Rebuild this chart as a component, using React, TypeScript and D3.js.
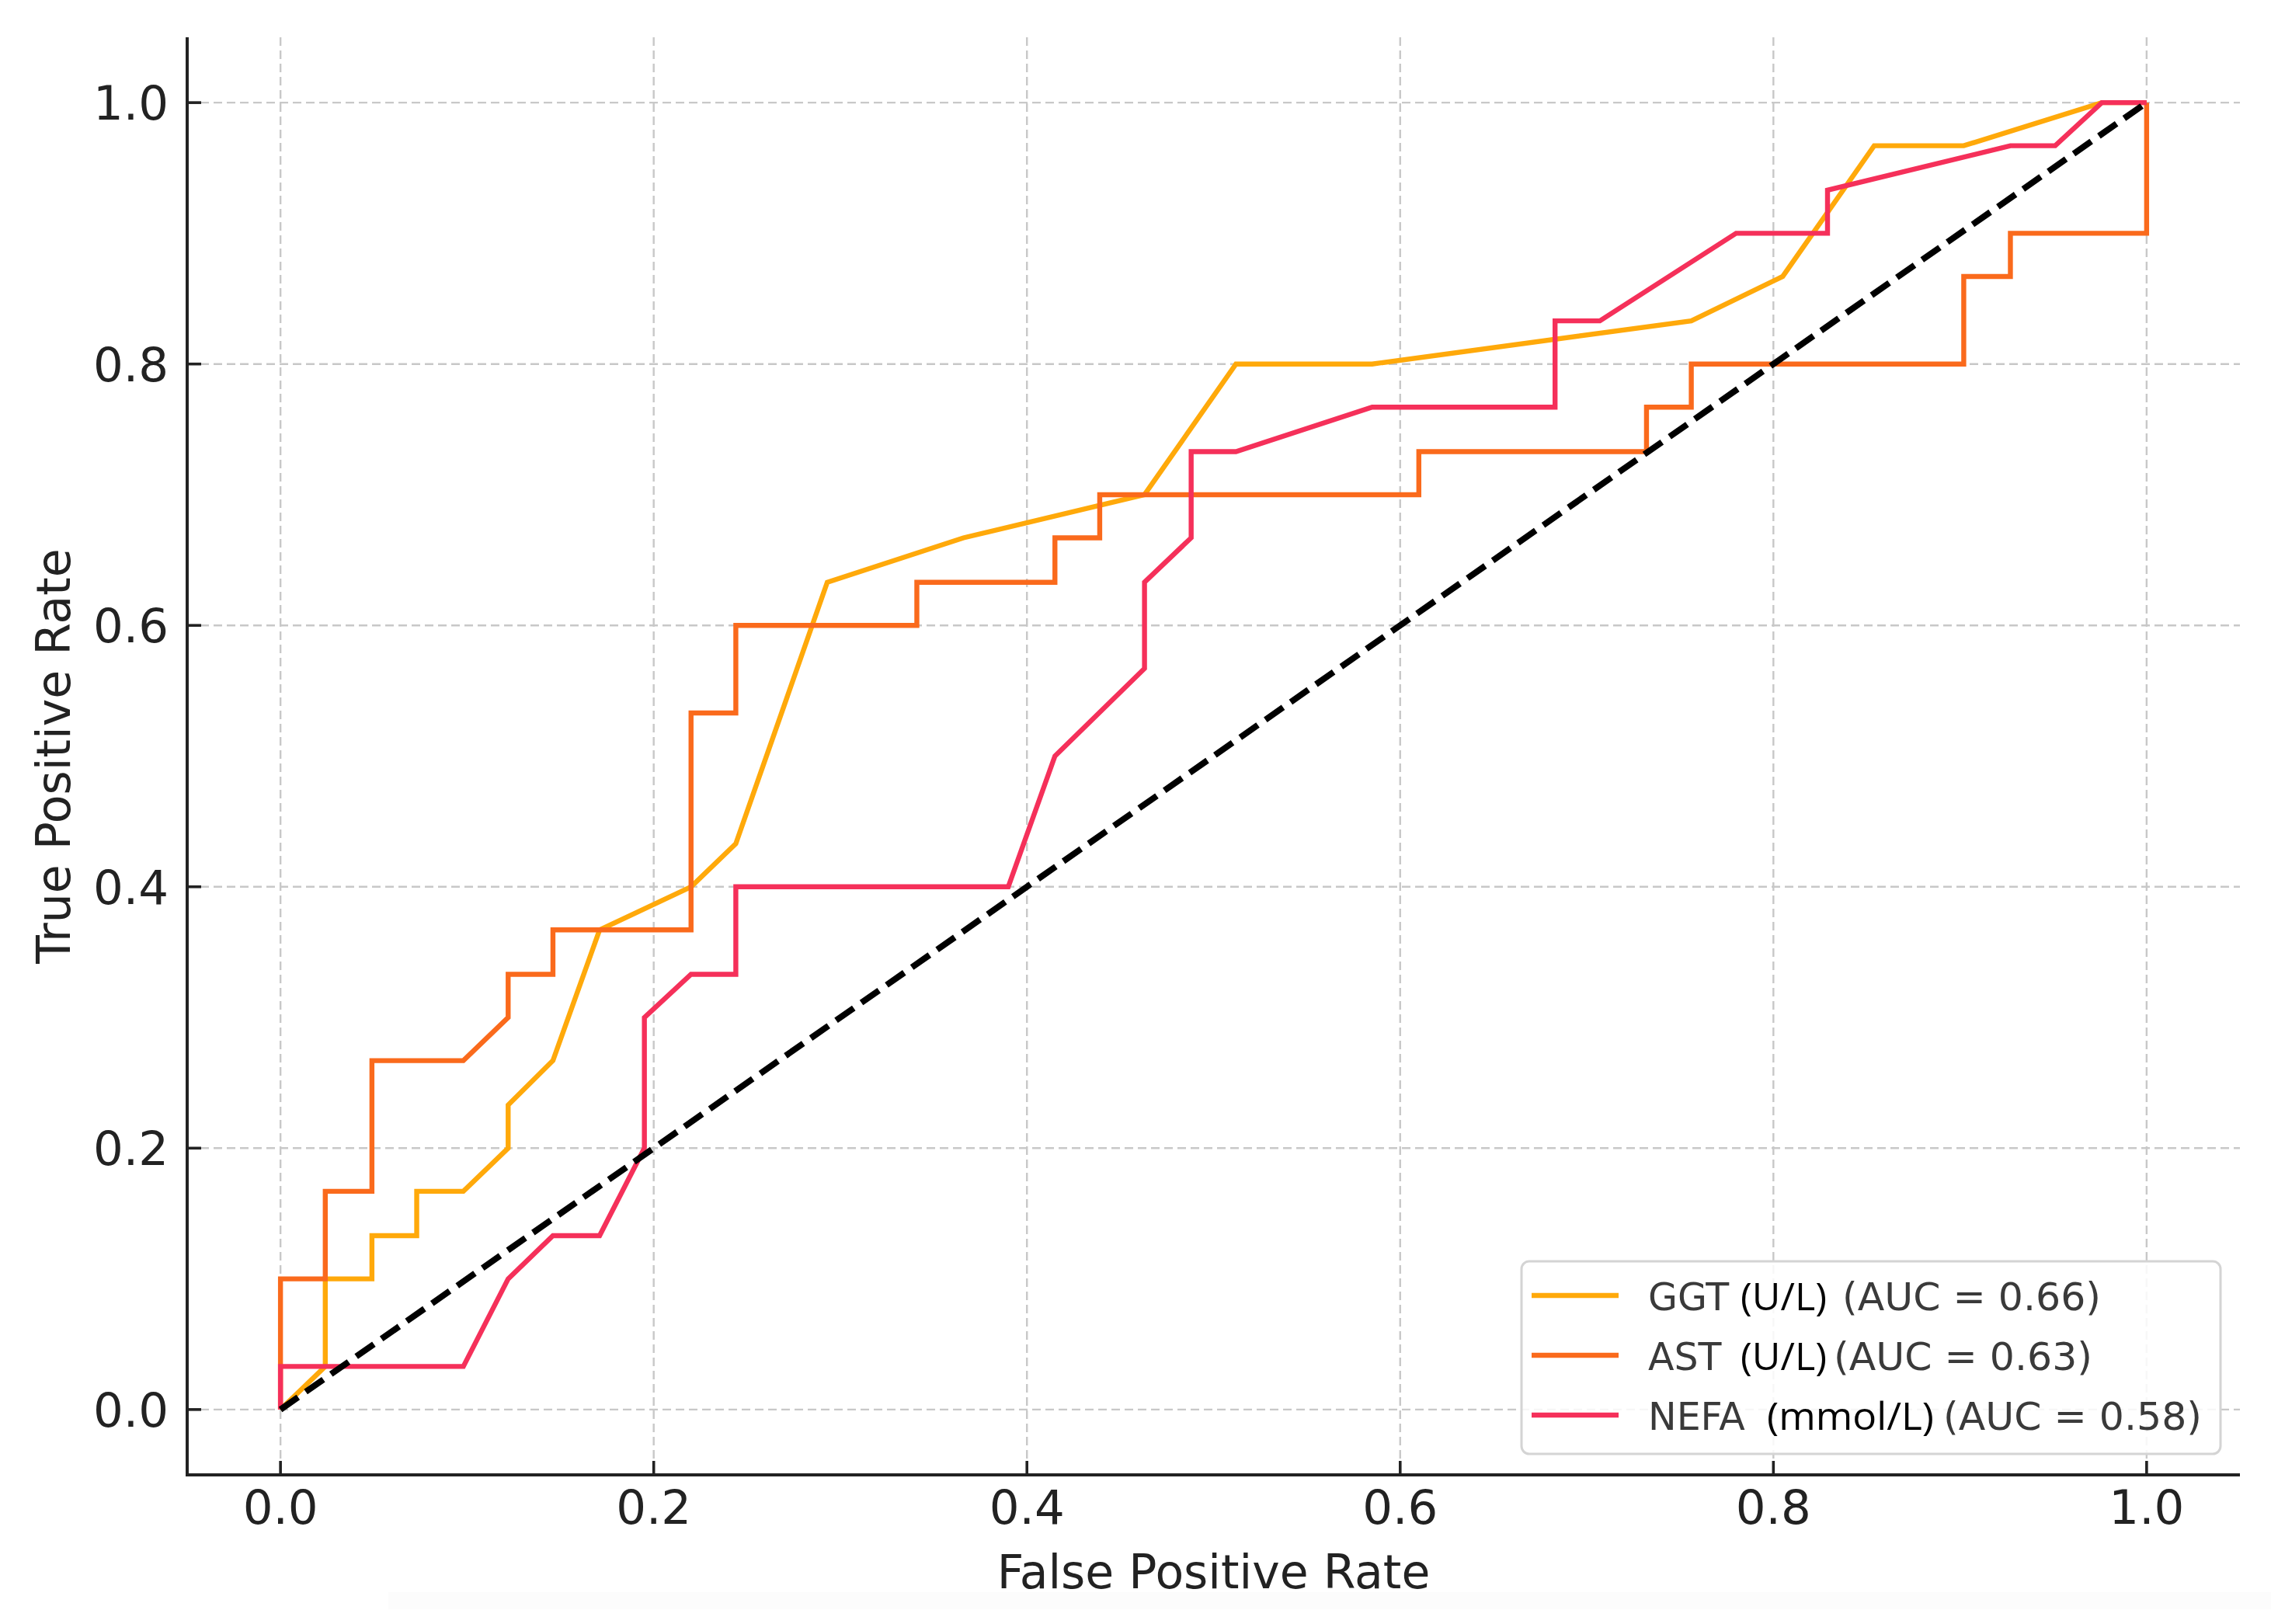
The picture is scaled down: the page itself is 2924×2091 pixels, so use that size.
import React, { useEffect } from "react";
import * as d3 from "d3";

// ---- Data ----
const seriesNames = ["GGT", "AST", "NEFA"];
const seriesUnits = ["(U/L)", "(U/L)", "(mmol/L)"];
const seriesAUC = [0.66, 0.63, 0.58];
const seriesColors = ["#FFA90A", "#FA6A1C", "#F5305A"];

const ggtFPR = [0, 0.024, 0.024, 0.049, 0.049, 0.073, 0.073, 0.098, 0.122, 0.122, 0.146, 0.171, 0.22, 0.244, 0.293, 0.366, 0.463, 0.512, 0.585, 0.756, 0.805, 0.854, 0.902, 0.976, 1.0];
const ggtTPR = [0, 0.033, 0.1, 0.1, 0.133, 0.133, 0.167, 0.167, 0.2, 0.233, 0.267, 0.367, 0.4, 0.433, 0.633, 0.667, 0.7, 0.8, 0.8, 0.833, 0.867, 0.967, 0.967, 1.0, 1.0];

const astFPR = [0, 0, 0.024, 0.024, 0.049, 0.049, 0.098, 0.122, 0.122, 0.146, 0.146, 0.22, 0.22, 0.244, 0.244, 0.341, 0.341, 0.415, 0.415, 0.439, 0.439, 0.61, 0.61, 0.732, 0.732, 0.756, 0.756, 0.902, 0.902, 0.927, 0.927, 1.0, 1.0];
const astTPR = [0, 0.1, 0.1, 0.167, 0.167, 0.267, 0.267, 0.3, 0.333, 0.333, 0.367, 0.367, 0.533, 0.533, 0.6, 0.6, 0.633, 0.633, 0.667, 0.667, 0.7, 0.7, 0.733, 0.733, 0.767, 0.767, 0.8, 0.8, 0.867, 0.867, 0.9, 0.9, 1.0];

const nefaFPR = [0, 0, 0.098, 0.122, 0.146, 0.171, 0.195, 0.195, 0.22, 0.244, 0.244, 0.39, 0.415, 0.463, 0.463, 0.488, 0.488, 0.512, 0.585, 0.683, 0.683, 0.707, 0.78, 0.829, 0.829, 0.927, 0.951, 0.976, 1.0];
const nefaTPR = [0, 0.033, 0.033, 0.1, 0.133, 0.133, 0.2, 0.3, 0.333, 0.333, 0.4, 0.4, 0.5, 0.567, 0.633, 0.667, 0.733, 0.733, 0.767, 0.767, 0.833, 0.833, 0.9, 0.9, 0.933, 0.967, 0.967, 1.0, 1.0];

const chanceFPR = [0, 1];
const chanceTPR = [0, 1];

const xTicks = [0, 0.2, 0.4, 0.6, 0.8, 1.0];
const yTicks = [0, 0.2, 0.4, 0.6, 0.8, 1.0];

const xLabel = "False Positive Rate";
const yLabel = "True Positive Rate";

// ---- Layout ----
const W = 2924;
const H = 2091;
const L = 241, R = 2884, T = 48, B = 1899;
const FONT = "'DejaVu Sans', Verdana, sans-serif";

export default function App() {
  useEffect(() => {
    document.body.style.margin = "0";
  }, []);

  const x = d3.scaleLinear().domain([-0.05, 1.05]).range([L, R]);
  const y = d3.scaleLinear().domain([-0.05, 1.05]).range([B, T]);

  const toPts = (xs: number[], ys: number[]) => xs.map((v, i) => [v, ys[i]] as [number, number]);
  const line = d3.line<[number, number]>().x((d) => x(d[0])).y((d) => y(d[1]));

  const series = [toPts(ggtFPR, ggtTPR), toPts(astFPR, astTPR), toPts(nefaFPR, nefaTPR)];

  const fmt = d3.format(".1f");

  // legend
  const legX = 1959, legY = 1624, legW = 900, legH = 248;
  const rowBase = [1687, 1764, 1841];
  const unitX = [2241, 2241, 2275];
  const unitW = [111, 111, 215];
  const aucX = [2372, 2361, 2502];

  return (
    <svg
      width={W}
      height={H}
      viewBox={`0 0 ${W} ${H}`}
      style={{ display: "block", position: "absolute", left: 0, top: 0, background: "#fff" }}
    >
      <rect x={0} y={0} width={W} height={H} fill="#ffffff" />
      <rect x={500} y={2050} width={W - 500} height={22} fill="#fcfcfc" />

      {/* grid */}
      <g stroke="#c8c8c8" strokeWidth={2.4} strokeDasharray="11 6">
        {xTicks.map((t) => (
          <line key={"gx" + t} x1={x(t)} x2={x(t)} y1={T} y2={B} />
        ))}
        {yTicks.map((t) => (
          <line key={"gy" + t} x1={L} x2={R} y1={y(t)} y2={y(t)} />
        ))}
      </g>

      {/* ROC curves */}
      {series.map((pts, i) => (
        <path
          key={seriesNames[i]}
          d={line(pts) || ""}
          fill="none"
          stroke={seriesColors[i]}
          strokeWidth={6.4}
          strokeLinejoin="miter"
        />
      ))}

      {/* chance diagonal */}
      <path
        d={line(toPts(chanceFPR, chanceTPR)) || ""}
        fill="none"
        stroke="#000"
        strokeWidth={8}
        strokeDasharray="27.7 12"
      />

      {/* spines */}
      <line x1={L} x2={L} y1={T} y2={B + 2} stroke="#222" strokeWidth={4} />
      <line x1={L - 2} x2={R} y1={B} y2={B} stroke="#222" strokeWidth={4} />

      {/* ticks (inward) and labels */}
      <g stroke="#222" strokeWidth={3.6}>
        {xTicks.map((t) => (
          <line key={"tx" + t} x1={x(t)} x2={x(t)} y1={B} y2={B - 18} />
        ))}
        {yTicks.map((t) => (
          <line key={"ty" + t} x1={L} x2={L + 18} y1={y(t)} y2={y(t)} />
        ))}
      </g>
      <g fontFamily={FONT} fontSize={61} fill="#222">
        {xTicks.map((t) => (
          <text key={"lx" + t} x={x(t)} y={1962} textAnchor="middle">
            {fmt(t)}
          </text>
        ))}
        {yTicks.map((t) => (
          <text key={"ly" + t} x={217} y={y(t) + 22} textAnchor="end">
            {fmt(t)}
          </text>
        ))}
      </g>

      {/* axis labels */}
      <text x={(L + R) / 2} y={2045} textAnchor="middle" fontFamily={FONT} fontSize={60} fill="#222">
        {xLabel}
      </text>
      <text
        transform={`translate(90, ${(T + B) / 2}) rotate(-90)`}
        textAnchor="middle"
        fontFamily={FONT}
        fontSize={60}
        fill="#222"
      >
        {yLabel}
      </text>

      {/* legend */}
      <rect
        x={legX}
        y={legY}
        width={legW}
        height={legH}
        rx={10}
        ry={10}
        fill="#ffffff"
        fillOpacity={0.85}
        stroke="#d4d4d4"
        strokeWidth={3}
      />
      {seriesNames.map((name, i) => (
        <g key={"leg" + name}>
          <line
            x1={1972}
            x2={2084}
            y1={rowBase[i] - 19}
            y2={rowBase[i] - 19}
            stroke={seriesColors[i]}
            strokeWidth={6.4}
          />
          <text x={2122} y={rowBase[i]} fontFamily={FONT} fontSize={49} fill="#3a3a3a">
            {name}
          </text>
          <text
            x={unitX[i]}
            y={rowBase[i]}
            fontFamily="'Open Sans', 'Noto Sans', sans-serif"
            fontSize={50}
            fill="#050505"
            textLength={unitW[i]}
            lengthAdjust="spacingAndGlyphs"
          >
            {seriesUnits[i]}
          </text>
          <text
            x={aucX[i]}
            y={rowBase[i]}
            fontFamily={FONT}
            fontSize={49}
            fill="#3a3a3a"
            textLength={333}
            lengthAdjust="spacingAndGlyphs"
          >
            {`(AUC = ${seriesAUC[i].toFixed(2)})`}
          </text>
        </g>
      ))}
    </svg>
  );
}
